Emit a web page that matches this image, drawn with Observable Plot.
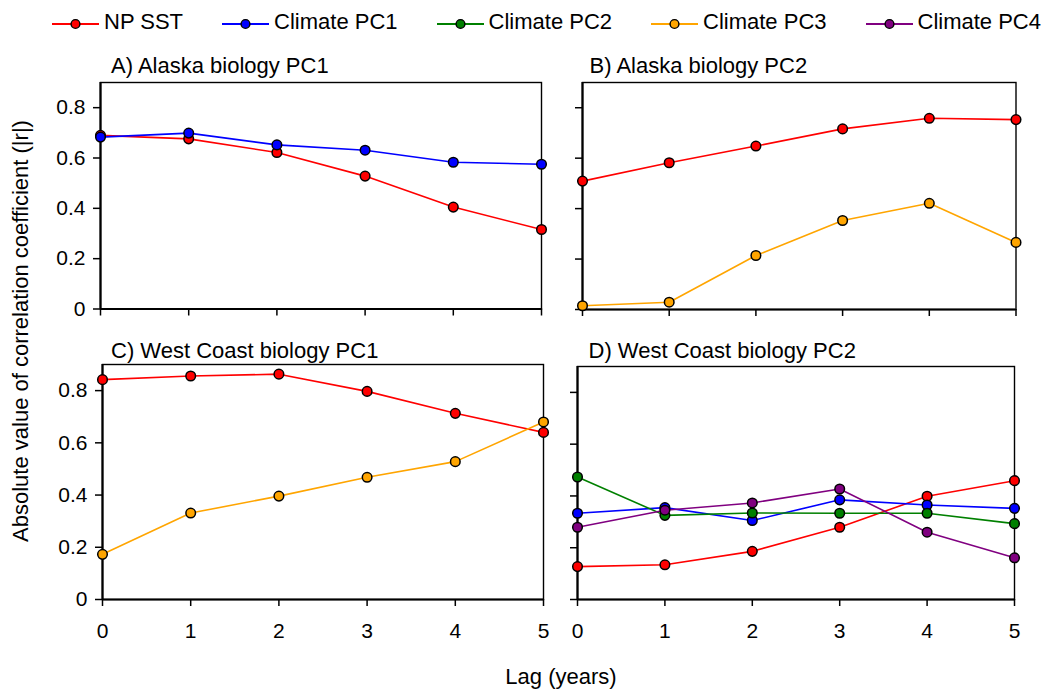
<!DOCTYPE html>
<html>
<head>
<meta charset="utf-8">
<script src="https://cdn.jsdelivr.net/npm/d3@7"></script>
<script src="https://cdn.jsdelivr.net/npm/@observablehq/plot@0.6"></script>
<style>
  html, body { margin: 0; padding: 0; background: white; }
  #chart { position: relative; width: 1054px; height: 692px; font-family: "Liberation Sans", Arial, sans-serif; color: black; background: white; overflow: hidden; }
  #chart svg.plot { position: absolute; overflow: visible; }
  #legend { position: absolute; left: 52px; top: 8px; height: 28px; display: flex; align-items: center; gap: 39px; font-size: 22px; white-space: nowrap; }
  .leg { display: flex; align-items: center; }
  .leg svg { display: block; margin-right: 5px; margin-top: 4px; }
  #xlab { position: absolute; left: 0; width: 1122px; top: 666px; text-align: center; font-size: 22px; line-height: 22px; }
  #ylab { position: absolute; left: 21px; top: 331px; font-size: 22px; line-height: 22px; white-space: nowrap; transform: translate(-50%, -50%) rotate(-90deg); }
</style>
</head>
<body>
<div id="chart"></div>
<script>
// ---- data ----
const lags = [0, 1, 2, 3, 4, 5];
const yTicks = [0, 0.2, 0.4, 0.6, 0.8];
const seriesNames = ["NP SST", "Climate PC1", "Climate PC2", "Climate PC3", "Climate PC4"];
const seriesColors = ["#ff0000", "#0000ff", "#008000", "#ffa500", "#800080"];
const panelTitles = ["A) Alaska biology PC1", "B) Alaska biology PC2", "C) West Coast biology PC1", "D) West Coast biology PC2"];
const xLabel = "Lag (years)";
const yLabel = "Absolute value of correlation coefficient (|r|)";

const alaskaPC1_npSST   = [0.690, 0.676, 0.622, 0.528, 0.405, 0.316];
const alaskaPC1_climPC1 = [0.683, 0.699, 0.652, 0.631, 0.583, 0.575];
const alaskaPC2_npSST   = [0.509, 0.582, 0.648, 0.716, 0.758, 0.753];
const alaskaPC2_climPC3 = [0.015, 0.029, 0.214, 0.353, 0.421, 0.266];
const westPC1_npSST     = [0.842, 0.856, 0.863, 0.797, 0.713, 0.640];
const westPC1_climPC3   = [0.173, 0.331, 0.396, 0.468, 0.528, 0.680];
const westPC2_npSST     = [0.127, 0.134, 0.186, 0.279, 0.399, 0.459];
const westPC2_climPC1   = [0.333, 0.355, 0.305, 0.385, 0.365, 0.352];
const westPC2_climPC2   = [0.473, 0.325, 0.334, 0.333, 0.333, 0.293];
const westPC2_climPC4   = [0.279, 0.345, 0.373, 0.427, 0.260, 0.161];

// ---- layout ----
const chart = document.getElementById("chart");
const yFmt = d => d === 0 ? "0" : d3.format(".1f")(d);

const panels = [
  { title: panelTitles[0], box: {x0: 99.5, x1: 540.5, y0: 82, y1: 308.5}, showX: false, showY: true, tdx: 10.5, tdy: 10,
    series: [["NP SST", alaskaPC1_npSST], ["Climate PC1", alaskaPC1_climPC1]] },
  { title: panelTitles[1], box: {x0: 581.5, x1: 1015, y0: 82, y1: 309}, showX: false, showY: false, tdx: 7, tdy: 10,
    series: [["NP SST", alaskaPC2_npSST], ["Climate PC3", alaskaPC2_climPC3]] },
  { title: panelTitles[2], box: {x0: 101.5, x1: 542.5, y0: 363.5, y1: 598.5}, showX: true, showY: true, tdx: 8.5, tdy: 7,
    series: [["NP SST", westPC1_npSST], ["Climate PC3", westPC1_climPC3]] },
  { title: panelTitles[3], box: {x0: 577, x1: 1014, y0: 365.5, y1: 598.5}, showX: true, showY: false, tdx: 11, tdy: 9,
    series: [["NP SST", westPC2_npSST], ["Climate PC1", westPC2_climPC1], ["Climate PC2", westPC2_climPC2], ["Climate PC4", westPC2_climPC4]] }
];

for (const p of panels) {
  const ml = 100, mr = 20, mt = 45, mb = 50;
  const w = p.box.x1 - p.box.x0 + ml + mr;
  const h = p.box.y1 - p.box.y0 + mt + mb;
  const data = p.series.flatMap(([name, vals]) => vals.map((v, i) => ({lag: lags[i], value: v, series: name})));
  const svg = Plot.plot({
    width: w, height: h,
    marginLeft: ml, marginRight: mr, marginTop: mt, marginBottom: mb,
    className: "plot",
    style: {background: "transparent", fontFamily: "'Liberation Sans', Arial, sans-serif", fontSize: "21px", color: "black", overflow: "visible"},
    x: {domain: [0, 5]},
    y: {domain: [0, 0.9]},
    color: {domain: seriesNames, range: seriesColors},
    marks: [
      Plot.axisX({ticks: lags, tickSize: 7, tickPadding: 17, label: null, strokeWidth: 1.5,
                  tickFormat: p.showX ? d => String(d) : () => ""}),
      Plot.axisY({ticks: yTicks, tickSize: 7, tickPadding: 8, label: null, strokeWidth: 1.5,
                  tickFormat: p.showY ? yFmt : () => ""}),
      Plot.frame({stroke: "black", strokeWidth: 1.4}),
      Plot.ruleY([0], {stroke: "black", strokeWidth: 2.2}),
      Plot.ruleX([0], {stroke: "black", strokeWidth: 2.2}),
      Plot.line(data, {x: "lag", y: "value", z: "series", stroke: "series", strokeWidth: 1.6}),
      Plot.dot(data, {x: "lag", y: "value", fill: "series", stroke: "black", strokeWidth: 1.5, r: 4.8}),
      Plot.text([p.title], {frameAnchor: "top-left", textAnchor: "start", lineAnchor: "bottom",
                            dx: p.tdx, dy: -p.tdy, fontSize: 22, fill: "black"})
    ]
  });
  svg.style.left = (p.box.x0 - ml) + "px";
  svg.style.top = (p.box.y0 - mt) + "px";
  chart.appendChild(svg);
}

// ---- legend ----
const legend = document.createElement("div");
legend.id = "legend";
seriesNames.forEach((name, i) => {
  const item = document.createElement("div");
  item.className = "leg";
  const sw = d3.create("svg").attr("width", 47).attr("height", 14);
  sw.append("line").attr("x1", 0).attr("x2", 47).attr("y1", 7).attr("y2", 7)
    .attr("stroke", seriesColors[i]).attr("stroke-width", 1.8);
  sw.append("circle").attr("cx", 23.5).attr("cy", 7).attr("r", 4.4)
    .attr("fill", seriesColors[i]).attr("stroke", "black").attr("stroke-width", 1.4);
  item.appendChild(sw.node());
  const t = document.createElement("span");
  t.textContent = name;
  item.appendChild(t);
  legend.appendChild(item);
});
chart.appendChild(legend);

// ---- axis titles ----
const xl = document.createElement("div");
xl.id = "xlab"; xl.textContent = xLabel; chart.appendChild(xl);
const yl = document.createElement("div");
yl.id = "ylab"; yl.textContent = yLabel; chart.appendChild(yl);
</script>
</body>
</html>
